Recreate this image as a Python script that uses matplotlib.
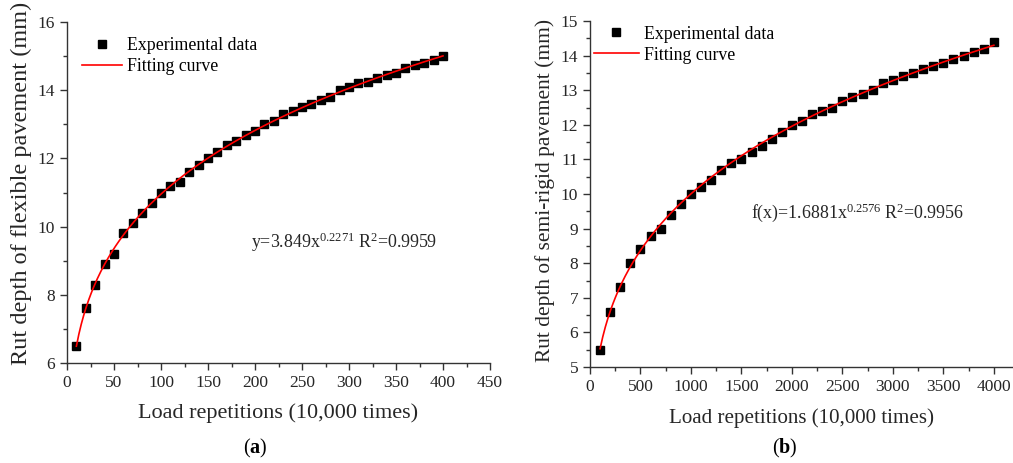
import matplotlib
matplotlib.use("Agg")
import matplotlib.pyplot as plt
import numpy as np
from matplotlib.ticker import MultipleLocator

plt.rcParams["font.family"] = ["Liberation Serif", "DejaVu Serif"]
plt.rcParams["mathtext.fontset"] = "custom"
plt.rcParams["mathtext.rm"] = "Liberation Serif"
plt.rcParams["mathtext.it"] = "Liberation Serif:italic"
plt.rcParams["mathtext.bf"] = "Liberation Serif:bold"

# Flexible pavement: load repetitions (10,000 times) vs rut depth (mm)
flex_reps = [10, 20, 30, 40, 50, 60, 70, 80, 90, 100,
             110, 120, 130, 140, 150, 160, 170, 180, 190, 200,
             210, 220, 230, 240, 250, 260, 270, 280, 290, 300,
             310, 320, 330, 340, 350, 360, 370, 380, 390, 400]
flex_rut = [6.5, 7.6, 8.3, 8.9, 9.2, 9.8, 10.1, 10.4, 10.7, 11.0,
            11.2, 11.3, 11.6, 11.8, 12.0, 12.2, 12.4, 12.5, 12.7, 12.8,
            13.0, 13.1, 13.3, 13.4, 13.5, 13.6, 13.7, 13.8, 14.0, 14.1,
            14.2, 14.25, 14.35, 14.45, 14.5, 14.65, 14.75, 14.8, 14.9, 15.0]
flex_coef, flex_exp, flex_r2 = 3.849, 0.2271, 0.9959

# Semi-rigid pavement
semi_reps = [100, 200, 300, 400, 500, 600, 700, 800, 900, 1000,
             1100, 1200, 1300, 1400, 1500, 1600, 1700, 1800, 1900, 2000,
             2100, 2200, 2300, 2400, 2500, 2600, 2700, 2800, 2900, 3000,
             3100, 3200, 3300, 3400, 3500, 3600, 3700, 3800, 3900, 4000]
semi_rut = [5.5, 6.6, 7.3, 8.0, 8.4, 8.8, 9.0, 9.4, 9.7, 10.0,
            10.2, 10.4, 10.7, 10.9, 11.0, 11.2, 11.4, 11.6, 11.8, 12.0,
            12.1, 12.3, 12.4, 12.5, 12.7, 12.8, 12.9, 13.0, 13.2, 13.3,
            13.4, 13.5, 13.6, 13.7, 13.8, 13.9, 14.0, 14.1, 14.2, 14.4]
semi_coef, semi_exp, semi_r2 = 1.6881, 0.2576, 0.9956

W, H = 1013, 463
fig = plt.figure(figsize=(W / 100, H / 100), dpi=100)
text_col = "#262626"
serif = {"family": "Liberation Serif", "size": 12.8}


def px_axes(left, top, right, bottom):
    return fig.add_axes([left / W, 1 - bottom / H, (right - left) / W, (bottom - top) / H])


def style_axes(ax):
    for side in ("top", "right"):
        ax.spines[side].set_visible(False)
    for side in ("left", "bottom"):
        ax.spines[side].set_linewidth(1.0)
        ax.spines[side].set_color("#333333")
    ax.tick_params(which="major", direction="out", length=5, width=1.0,
                   labelsize=12.5, colors="#333333", labelcolor=text_col)
    ax.tick_params(which="minor", direction="out", length=3, width=1.0, colors="#333333")


def draw_panel(ax, reps, rut, coef, expo, r2, xmax, ylim, xstep, ystep,
               xlabel_size, ylabel, ylabel_size, ylabel_xy, eq_prefix, eq_pos, tag, tag_xy):
    xs = np.linspace(reps[0], reps[-1], 300)
    ax.plot(reps, rut, "s", color="black", markersize=5.6, zorder=2, label="Experimental data")
    ax.plot(xs, coef * xs ** expo, "-", color="red", lw=1.2, zorder=3, label="Fitting curve")
    ax.set_xlim(0, xmax)
    ax.set_ylim(*ylim)
    ax.xaxis.set_major_locator(MultipleLocator(xstep))
    ax.xaxis.set_minor_locator(MultipleLocator(xstep / 2))
    ax.yaxis.set_major_locator(MultipleLocator(ystep))
    ax.yaxis.set_minor_locator(MultipleLocator(ystep / 2))
    style_axes(ax)
    ax.set_xlabel("Load repetitions (10,000 times)", fontsize=xlabel_size, color=text_col)
    ax.set_ylabel(ylabel, fontsize=ylabel_size, color=text_col)
    ax.xaxis.set_label_coords(0.5, -0.118)
    ax.yaxis.set_label_coords(*ylabel_xy)
    eq = eq_prefix + "=%s" % coef + "x$^{%s}$" % expo + " R$^{2}$=%s" % r2
    ax.text(eq_pos[0], eq_pos[1], eq, transform=ax.transAxes, fontsize=12.9,
            color=text_col, va="center", ha="left")
    ax.text(tag_xy[0], tag_xy[1], "(" + r"$\mathbf{" + tag + "}$" + ")", transform=ax.transAxes,
            fontsize=14.5, ha="center", va="center", color="black")


ax_a = px_axes(67, 22, 490, 363)
draw_panel(ax_a, flex_reps, flex_rut, flex_coef, flex_exp, flex_r2,
           450, (6, 16), 50, 2, 16,
           "Rut depth of flexible pavement (mm)", 17.5, (-0.083, 0.528),
           "y", (0.435, 0.355), "a", (0.444, -0.25))
ax_a.legend(loc="upper left", bbox_to_anchor=(0.019, 0.977), frameon=False, prop=serif,
            handlelength=2.25, handletextpad=0.3, labelspacing=0.22, borderaxespad=0)

ax_b = px_axes(590, 21, 1013, 367)
draw_panel(ax_b, semi_reps, semi_rut, semi_coef, semi_exp, semi_r2,
           4190, (5, 15), 500, 1, 15.1,
           "Rut depth of semi-rigid pavement (mm)", 15.4, (-0.083, 0.509),
           "f(x)", (0.38, 0.447), "b", (0.461, -0.235))
ax_b.legend(loc="upper left", bbox_to_anchor=(-0.007, 1.007), frameon=False, prop=serif,
            handlelength=2.5, handletextpad=0.3, labelspacing=0.22, borderaxespad=0)

fig.savefig("out.png", dpi=100)
